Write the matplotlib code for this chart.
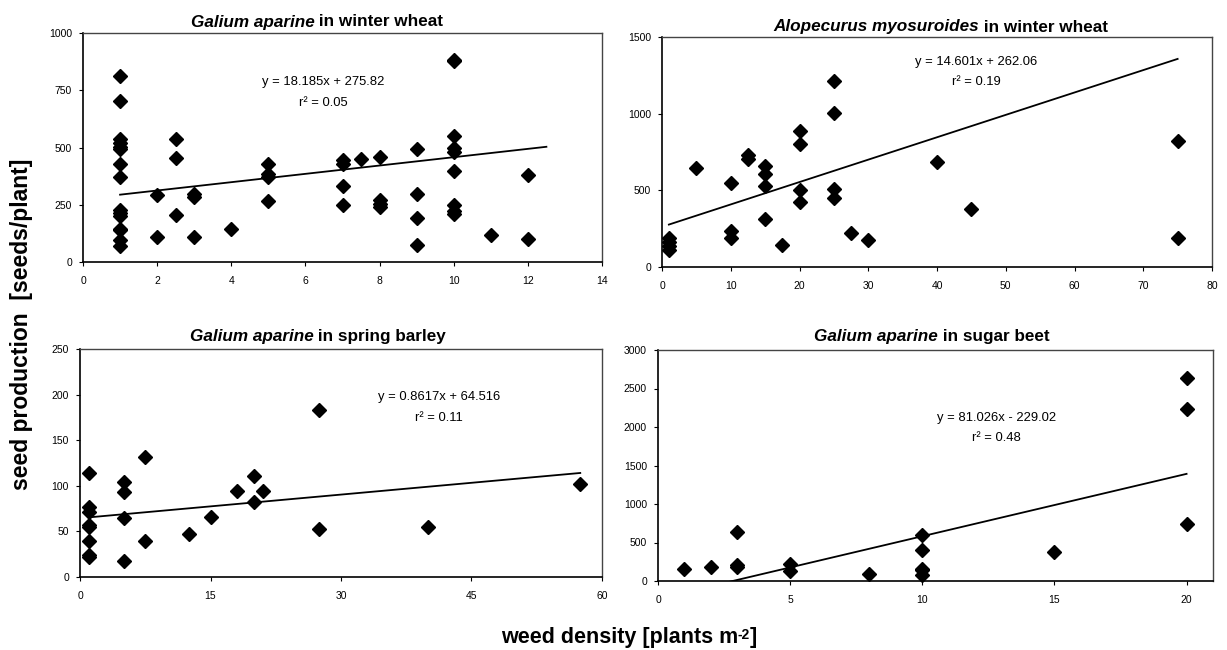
import matplotlib
matplotlib.use("Agg")
import matplotlib.pyplot as plt
from matplotlib.offsetbox import TextArea, HPacker, AnchoredOffsetbox

plt.rcParams['font.family'] = ['Liberation Sans', 'DejaVu Sans']

# --- data ---
# Galium aparine in winter wheat
gw_x = [1, 1, 1, 1, 1, 1, 1, 1, 1, 1, 1, 1, 1, 1, 1,
        2, 2, 2.5, 2.5, 2.5, 3, 3, 3, 4, 5, 5, 5, 5,
        7, 7, 7, 7, 7.5, 8, 8, 8, 8, 9, 9, 9, 9,
        10, 10, 10, 10, 10, 10, 10, 10, 10, 11, 12, 12]
gw_y = [813, 704, 536, 518, 504, 493, 426, 372, 229, 215, 201, 146, 139, 98, 69,
        292, 109, 539, 454, 207, 299, 285, 109, 146, 426, 384, 372, 266,
        445, 430, 334, 249, 448, 460, 270, 255, 238, 493, 295, 190, 76,
        882, 877, 552, 499, 482, 399, 248, 223, 209, 117, 380, 102]

# Alopecurus myosuroides in winter wheat
aw_x = [1, 1, 1, 1, 5, 10, 10, 10, 12.5, 12.5, 15, 15, 15, 15, 17.5,
        20, 20, 20, 20, 25, 25, 25, 25, 27.5, 30, 40, 45, 75, 75]
aw_y = [190, 165, 140, 110, 648, 548, 235, 191, 728, 704, 659, 604, 528, 315, 141,
        887, 804, 500, 426, 1211, 1007, 511, 452, 222, 174, 683, 380, 822, 189]

# Galium aparine in spring barley
gb_x = [1, 1, 1, 1, 1, 1, 1, 1, 5, 5, 5, 5, 7.5, 7.5, 12.5, 15, 18,
        20, 20, 21, 27.5, 27.5, 40, 57.5]
gb_y = [114, 77, 71, 57, 55, 40, 24, 22, 104, 93, 65, 17, 132, 40, 47, 66, 94,
        111, 82, 94, 183, 53, 55, 102]

# Galium aparine in sugar beet
gs_x = [1, 2, 3, 3, 3, 5, 5, 8, 10, 10, 10, 10, 10, 15, 20, 20, 20]
gs_y = [160, 182, 637, 212, 182, 217, 130, 87, 594, 399, 160, 140, 74, 377,
        2640, 2228, 746]

# trend lines (slope, intercept, x range) and labels
slopes = [18.185, 14.601, 0.8617, 81.026]
intercepts = [275.82, 262.06, 64.516, -229.02]
trend_ranges = [(1, 12.5), (1, 75), (1, 57.5), (1, 20)]
eq_labels = ["y = 18.185x + 275.82", "y = 14.601x + 262.06",
             "y = 0.8617x + 64.516", "y = 81.026x - 229.02"]
r2_labels = ["r² = 0.05", "r² = 0.19", "r² = 0.11", "r² = 0.48"]
species = ["Galium aparine", "Alopecurus myosuroides", "Galium aparine", "Galium aparine"]
crops = [" in winter wheat", " in winter wheat", " in spring barley", " in sugar beet"]

W, H = 1227, 650
fig = plt.figure(figsize=(W / 100, H / 100), dpi=100)

# pixel boxes: left, right, top, bottom
boxes = [(83, 602, 33, 262), (662, 1212, 37, 267), (80, 602, 349, 577), (658, 1213, 350, 581)]
xlims = [(0, 14), (0, 80), (0, 60), (0, 21)]
ylims = [(0, 1000), (0, 1500), (0, 250), (0, 3000)]
xticks = [range(0, 15, 2), range(0, 81, 10), range(0, 61, 15), range(0, 21, 5)]
yticks = [range(0, 1001, 250), range(0, 1501, 500), range(0, 251, 50), range(0, 3001, 500)]
eq_pos = [(6.47, 786, 694), (45.7, 1337, 1207), (41.3, 197, 174), (12.8, 2117, 1857)]
title_pos = [(317, 22), (941, 27), (318, 337), (932, 337)]
data = [(gw_x, gw_y), (aw_x, aw_y), (gb_x, gb_y), (gs_x, gs_y)]

for i in range(4):
    l, r, t, b = boxes[i]
    ax = fig.add_axes([l / W, 1 - b / H, (r - l) / W, (b - t) / H])
    xs, ys = data[i]
    ax.plot(xs, ys, 'D', color='black', markersize=7, zorder=3, clip_on=False)
    x0, x1 = trend_ranges[i]
    ax.plot([x0, x1], [slopes[i] * x0 + intercepts[i], slopes[i] * x1 + intercepts[i]],
            color='black', linewidth=1.3, zorder=2)
    ax.set_xlim(*xlims[i])
    ax.set_ylim(*ylims[i])
    ax.set_xticks(list(xticks[i]))
    ax.set_yticks(list(yticks[i]))
    ax.tick_params(labelsize=7.5, length=3, width=0.8, direction='out', pad=5)
    ax.tick_params(axis='x', pad=7)
    for s in ['left', 'bottom']:
        ax.spines[s].set_linewidth(1.2)
        ax.spines[s].set_color('black')
    for s in ['top', 'right']:
        ax.spines[s].set_linewidth(1.0)
        ax.spines[s].set_color('#444444')
    ex, ey, ry = eq_pos[i]
    ax.text(ex, ey, eq_labels[i], ha='center', va='center', fontsize=9.4)
    ax.text(ex, ry, r2_labels[i], ha='center', va='center', fontsize=9.4)

    # title: italic species name + plain crop
    tbox = HPacker(children=[
        TextArea(species[i], textprops=dict(fontsize=12.3, fontweight='bold', fontstyle='italic')),
        TextArea(crops[i], textprops=dict(fontsize=12.3, fontweight='bold'))],
        align='baseline', pad=0, sep=0)
    tx, ty = title_pos[i]
    anch = AnchoredOffsetbox(loc='center', child=tbox, pad=0, borderpad=0, frameon=False,
                             bbox_to_anchor=(tx / W, 1 - ty / H), bbox_transform=fig.transFigure)
    fig.add_artist(anch)

fig.text(22 / W, 1 - 324 / H, "seed production  [seeds/plant]", rotation=90,
         ha='center', va='center', fontsize=16.5, fontweight='bold')

# x label with a small raised "-2"
xl = fig.text(738 / W, 1 - 637 / H, "weed density [plants m",
              ha='right', va='center', fontsize=15.5, fontweight='bold')
sup = fig.add_artist(plt.Annotation("-2", xy=(1, 0.95), xycoords=xl, ha='left', va='top',
                                    fontsize=10, fontweight='bold'))
fig.add_artist(plt.Annotation("]", xy=(1, 0), xycoords=(sup, xl), ha='left', va='bottom',
                              fontsize=15.5, fontweight='bold'))

fig.savefig("out.png", dpi=100)
